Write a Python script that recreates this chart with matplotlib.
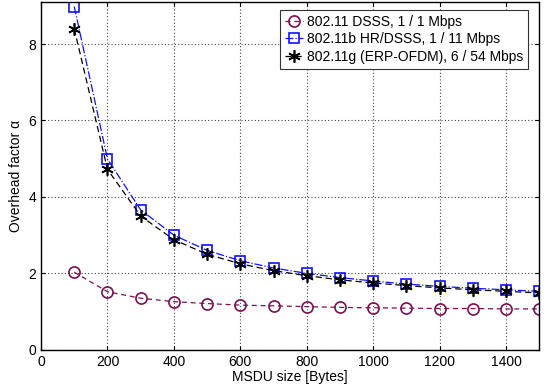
import matplotlib
matplotlib.use('Agg')
import matplotlib.pyplot as plt
from matplotlib.ticker import MultipleLocator

plt.rcParams['font.family'] = ['Liberation Sans', 'DejaVu Sans']

msdu = [100, 200, 300, 400, 500, 600, 700, 800, 900, 1000, 1100, 1200, 1300, 1400, 1500]
dsss = [2.03, 1.52, 1.35, 1.26, 1.21, 1.17, 1.15, 1.13, 1.11, 1.10, 1.09, 1.08, 1.08, 1.07, 1.07]
hrdsss = [8.98, 4.99, 3.66, 3.0, 2.6, 2.33, 2.14, 2.0, 1.89, 1.80, 1.72, 1.66, 1.61, 1.57, 1.53]
erpofdm = [8.4, 4.72, 3.5, 2.88, 2.5, 2.25, 2.07, 1.94, 1.83, 1.75, 1.68, 1.62, 1.57, 1.53, 1.49]

fig = plt.figure(figsize=(5.47, 3.9), dpi=100)
ax = fig.add_axes([0.075, 0.103, 0.911, 0.892])

ax.plot(msdu, dsss, color='#7a1050', linestyle='--', dashes=(4, 3), linewidth=0.9,
        marker='o', markersize=8, markerfacecolor='none', markeredgewidth=1.2,
        label='802.11 DSSS, 1 / 1 Mbps')
ax.plot(msdu, hrdsss, color='#1010ff', linestyle='-.', linewidth=0.9,
        marker='s', markersize=7, markerfacecolor='none', markeredgewidth=1.2,
        label='802.11b HR/DSSS, 1 / 11 Mbps')
ax.plot(msdu, erpofdm, color='black', linestyle='--', dashes=(5, 3), linewidth=0.9,
        marker=(6, 2, 0), markersize=9, markeredgewidth=1.2,
        label='802.11g (ERP-OFDM), 6 / 54 Mbps')

ax.set_xlim(0, 1500)
ax.set_ylim(0, 9.1)
ax.xaxis.set_major_locator(MultipleLocator(200))
ax.yaxis.set_major_locator(MultipleLocator(2))
ax.tick_params(which='both', direction='in', top=True, right=True, labelsize=10, length=3)
ax.grid(True, which='major', linestyle=(0, (1, 2)), color='#444444', linewidth=0.8)
ax.set_xlabel('MSDU size [Bytes]', fontsize=10, labelpad=1)
ax.set_ylabel('Overhead factor α', fontsize=10)
for s in ax.spines.values():
    s.set_linewidth(1.0)

leg = ax.legend(loc='upper right', bbox_to_anchor=(0.978, 0.977), borderaxespad=0,
                fontsize=10, fancybox=False, edgecolor='#333333', framealpha=1,
                handlelength=1.3, borderpad=0.35, labelspacing=0.25, handletextpad=0.3)
leg.get_frame().set_linewidth(0.8)

fig.savefig('out.png', dpi=100)
